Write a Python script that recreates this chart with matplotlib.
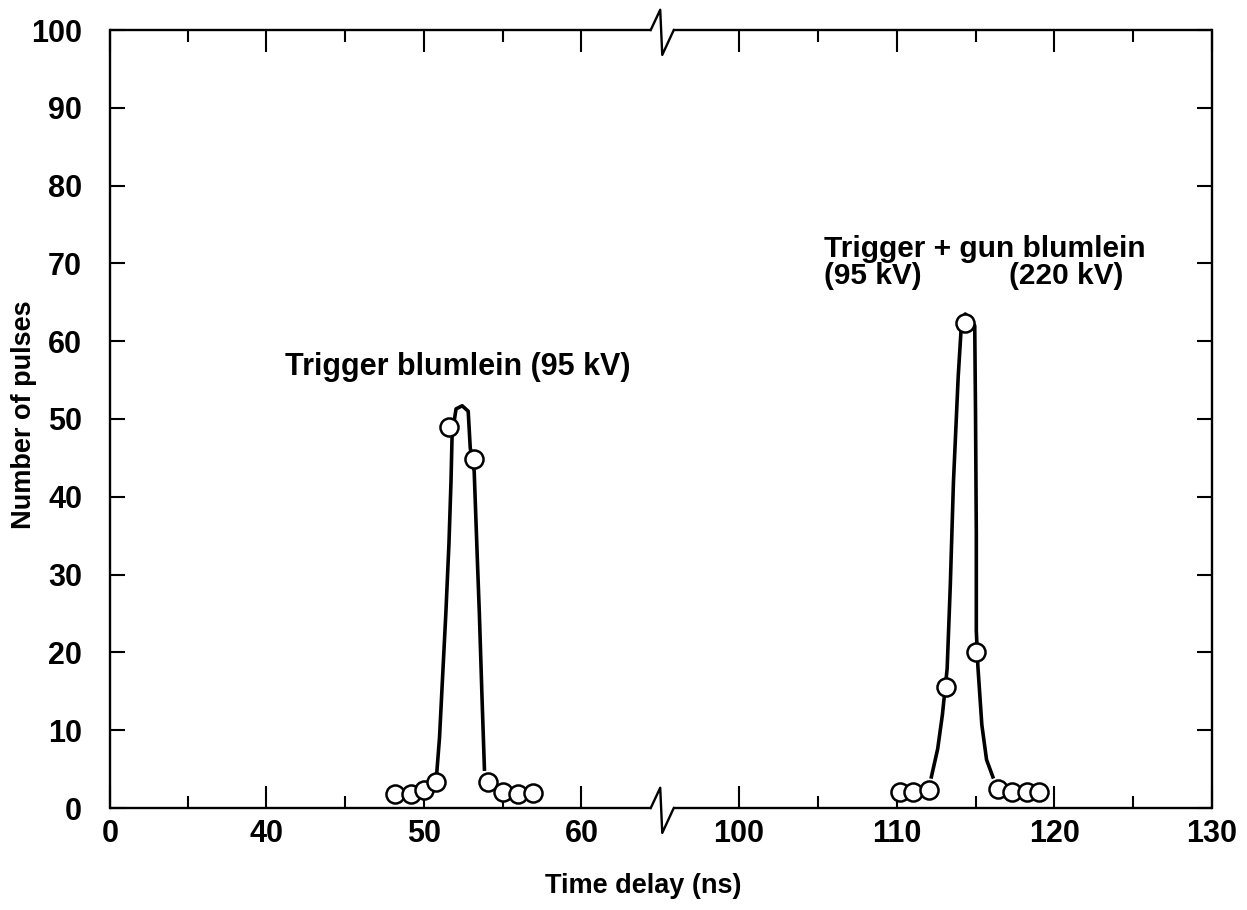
import numpy as np
import matplotlib
matplotlib.use("Agg")
import matplotlib.pyplot as plt
from matplotlib.ticker import FixedLocator

# ---- data ----
x_trig = [48.2, 49.2, 50.0, 50.8, 51.6, 53.2, 54.1, 55.0, 55.95, 56.95]
y_trig = [1.8, 1.8, 2.3, 3.3, 49.0, 44.8, 3.3, 2.0, 1.8, 1.9]

curve_trig_x = [50.83, 51.0, 51.2, 51.4, 51.6, 51.73, 51.8, 52.05, 52.44, 52.82, 52.95, 53.2,
                53.4, 53.53, 53.7, 53.85]
curve_trig_y = [4.6, 9.0, 17.0, 24.9, 34.0, 42.0, 48.0, 51.3, 51.7, 51.0, 46.3, 43.3,
                32.0, 24.9, 14.0, 5.0]

x_gun = [110.24, 111.06, 112.06, 113.1, 114.35, 115.06, 116.44, 117.3, 118.25, 119.0]
y_gun = [2.0, 2.0, 2.3, 15.5, 62.3, 20.0, 2.4, 2.0, 2.0, 2.0]

curve_gun_x = [112.2, 112.6, 112.9, 113.2, 113.4, 113.6, 113.9, 114.1, 114.35, 114.95, 115.0,
               115.05, 115.05, 115.15, 115.4, 115.7, 116.1]
curve_gun_y = [4.0, 7.6, 12.0, 17.9, 28.6, 41.9, 55.4, 62.0, 63.5, 62.0, 50.8,
               35.2, 22.8, 18.2, 10.7, 6.2, 4.0]

x_major = [0, 40, 50, 60, 100, 110, 120, 130]
x_minor = [20, 45, 55, 105, 115, 125]
y_major = list(range(0, 101, 10))

label_trig = "Trigger blumlein (95 kV)"
label_gun1 = "Trigger + gun blumlein"
label_gun2 = "(95 kV)"
label_gun3 = "(220 kV)"
x_title = "Time delay (ns)"
y_title = "Number of pulses"

# ---- broken x scale ----
K = 9.9 / 40.0
A = 40 * K


def fwd(x):
    x = np.asarray(x, float)
    return np.where(x <= 40, x * K,
                    np.where(x < 80, A + (x - 40), A + 25 + (x - 95)))


def inv(u):
    u = np.asarray(u, float)
    return np.where(u <= A, u / K,
                    np.where(u <= A + 25, 40 + (u - A), 95 + (u - A - 25)))


plt.rcParams['font.family'] = ['Liberation Sans', 'DejaVu Sans']

fig = plt.figure(figsize=(12.47, 9.10), dpi=100)
ax = fig.add_axes([110 / 1247, 1 - 808 / 910, (1212 - 110) / 1247, (808 - 30) / 910])
ax.set_xscale('function', functions=(fwd, inv))
ax.set_xlim(0, 130)
ax.set_ylim(0, 100)

lw_ax = 1.7
for s in ('top', 'bottom'):
    ax.spines[s].set_visible(False)
for s in ('left', 'right'):
    ax.spines[s].set_linewidth(lw_ax)

tr = ax.get_xaxis_transform()
for yb in (0.0, 1.0):
    ax.plot([0, 64.4], [yb, yb], color='black', lw=lw_ax, transform=tr, clip_on=False,
            solid_capstyle='butt')
    ax.plot([64.4, 65.0, 95.13, 95.86], [yb, yb + 0.026, yb - 0.032, yb],
            color='black', lw=lw_ax, transform=tr, clip_on=False)
    ax.plot([95.86, 130], [yb, yb], color='black', lw=lw_ax, transform=tr, clip_on=False,
            solid_capstyle='butt')

ax.xaxis.set_major_locator(FixedLocator(x_major))
ax.xaxis.set_minor_locator(FixedLocator(x_minor))
ax.set_xticklabels([str(v) for v in x_major])
ax.set_yticks(y_major)

ax.tick_params(axis='both', which='major', direction='in', top=True, right=True,
               length=16, width=1.5, labelsize=22)
ax.tick_params(axis='x', which='major', pad=8)
ax.tick_params(axis='y', which='major', length=11, pad=20)
ax.tick_params(axis='both', which='minor', direction='in', top=True, right=True,
               length=8.5, width=1.5)
for lab in ax.get_xticklabels() + ax.get_yticklabels():
    lab.set_fontweight('bold')

ax.plot(curve_trig_x, curve_trig_y, color='black', lw=2.6, zorder=3)
ax.plot(curve_gun_x, curve_gun_y, color='black', lw=2.6, zorder=3)
ax.plot(x_trig, y_trig, 'o', ms=13, mfc='white', mec='black', mew=1.8, zorder=4, clip_on=False)
ax.plot(x_gun, y_gun, 'o', ms=13, mfc='white', mec='black', mew=1.8, zorder=4, clip_on=False)

ax.text(41.2, 55.7, label_trig, fontsize=22, fontweight='bold', ha='left', va='baseline')
ax.text(105.4, 70.8, label_gun1, fontsize=21.5, fontweight='bold', ha='left', va='baseline')
ax.text(105.4, 67.4, label_gun2, fontsize=21.5, fontweight='bold', ha='left', va='baseline')
ax.text(117.1, 67.4, label_gun3, fontsize=21.5, fontweight='bold', ha='left', va='baseline')

fig.text(643 / 1247, 1 - 886 / 910, x_title, fontsize=19.5, fontweight='bold',
         ha='center', va='center')
fig.text(24 / 1247, 1 - 415 / 910, y_title, fontsize=19.5, fontweight='bold',
         ha='center', va='center', rotation=90)

fig.savefig("out.png", dpi=100)
